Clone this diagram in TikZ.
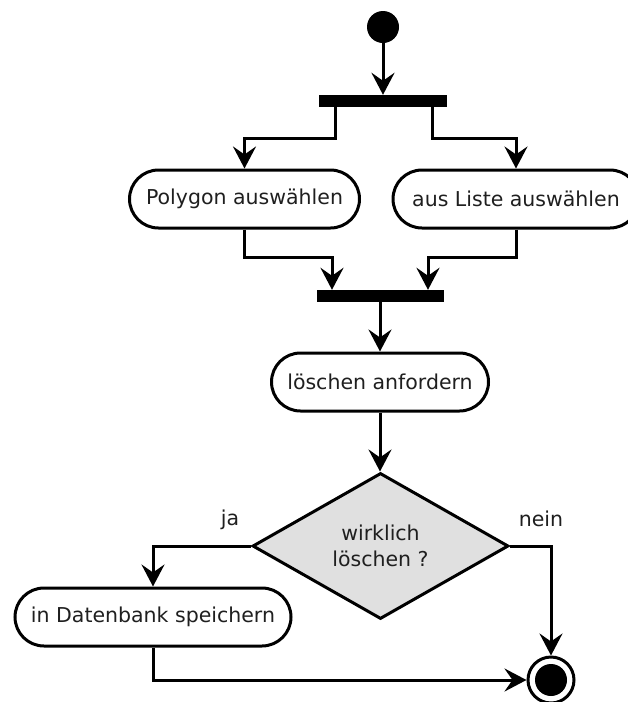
\documentclass[tikz,border=0pt]{standalone}
\usepackage{fontspec}
\setmainfont{DejaVu Sans}
\usetikzlibrary{arrows.meta,shapes.geometric}

\tikzset{
  every node/.style={font=\fontsize{20.5}{26}\selectfont, text=black!88},
  action/.style={draw, line width=3pt, rounded corners=29pt,
    minimum height=58pt, inner sep=0pt, align=center},
  bar/.style={fill=black, minimum height=12pt, inner sep=0pt},
  decision/.style={draw, line width=3pt, fill=black!12, diamond,
    minimum width=256pt, minimum height=146pt, inner sep=0pt, align=center},
  flow/.style={line width=3pt,
    -{Stealth[length=22pt,width=23pt,inset=8pt]}},
  guard/.style={inner sep=0pt}
}

\begin{document}
\begin{tikzpicture}[x=1pt,y=-1pt]
  \useasboundingbox (0,0) rectangle (627,702);

  % start, fork and the two parallel actions
  \node[circle, fill=black, minimum size=32pt, inner sep=0pt] (start) at (383,27) {};
  \node[bar, minimum width=128pt] (fork) at (383,101) {};
  \node[action, minimum width=230pt] (poly) at (244.5,199) {Polygon auswählen};
  \node[action, minimum width=246pt] (liste) at (516,199) {aus Liste auswählen};
  \node[bar, minimum width=127pt] (join) at (380,296) {};
  \node[action, minimum width=217pt] (req) at (380,382) {löschen anfordern};
  \node[decision] (ask) at (380.5,546) {wirklich\\löschen ?};
  \node[action, minimum width=276pt] (db) at (153,617) {in Datenbank speichern};

  % final node
  \node[circle, draw, line width=3pt, minimum size=46pt, inner sep=0pt] (stop) at (551,680) {};
  \fill (stop.center) circle (16pt);

  % guards
  \node[guard] (ja) at (230,520) {ja};
  \node[guard] (nein) at (541,519) {nein};

  % control flow
  \draw[flow] (start) -- (fork.north);
  \draw[flow] ([xshift=-48pt]fork.south) -- ++(0,31) -| (poly.north);
  \draw[flow] ([xshift=49pt]fork.south) -- ++(0,31) -| (liste.north);
  \draw[flow] (poly.south) -- ++(0,28) -| ([xshift=-48pt]join.north);
  \draw[flow] (liste.south) -- ++(0,28) -| ([xshift=48pt]join.north);
  \draw[flow] (join.south) -- (join.south |- req.north);
  \draw[flow] (req.south) -- (req.south |- ask.north);
  \draw[flow] (ask.west) -| (db.north);
  \draw[flow] (ask.east) -| (stop.north);
  \draw[flow] (db.south) |- (stop.west);
\end{tikzpicture}
\end{document}
